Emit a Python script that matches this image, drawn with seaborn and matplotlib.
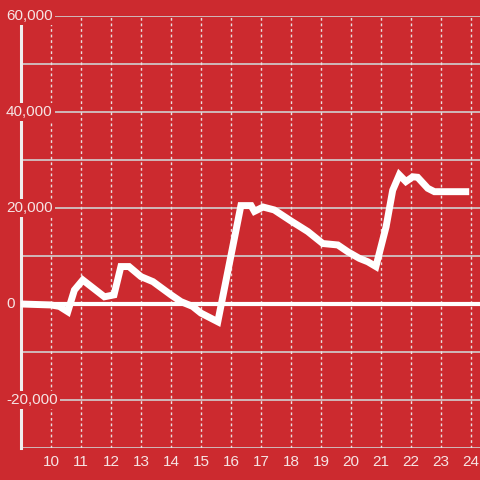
import seaborn as sns
import matplotlib.pyplot as plt
import pandas as pd

# values
hours = [9.0, 10.0, 10.28, 10.56, 10.78, 11.06, 11.78, 12.1, 12.33, 12.6,
         13.0, 13.4, 14.0, 14.33, 14.72, 15.0, 15.56, 16.33, 16.67, 16.78,
         17.07, 17.44, 18.0, 18.56, 19.06, 19.56, 19.89, 20.28, 20.56, 20.83,
         21.17, 21.39, 21.61, 21.83, 22.06, 22.22, 22.56, 22.78, 23.94]
balance = [0, -200, -500, -1600, 2900, 5000, 1500, 1900, 7800, 7800,
           5700, 4650, 1900, 500, -500, -1900, -3700, 20500, 20500, 19300,
           20200, 19600, 17300, 15100, 12600, 12300, 10900, 9500, 8800, 7800,
           16100, 23700, 26900, 25500, 26500, 26400, 24100, 23400, 23400]
x_ticks = list(range(10, 25))
y_grid = list(range(-30000, 60001, 10000))
y_labeled = [60000, 40000, 20000, 0, -20000]

bg = "#cc2a2f"
txt = "#f6e4e4"

sns.set_style("white", {"axes.facecolor": bg, "figure.facecolor": bg})
plt.rcParams["font.family"] = ["Liberation Sans", "DejaVu Sans"]

fig = plt.figure(figsize=(4.8, 4.8), dpi=100)
ax = fig.add_axes([21 / 480, 32 / 480, 459 / 480, 432 / 480])

df = pd.DataFrame({"hour": hours, "balance": balance})

ax.set_xlim(9, 24.3)
ax.set_ylim(-30000, 60000)

# grid
for y in y_grid:
    ax.axhline(y, color="#d0d0d0", lw=1.2, zorder=1)
for x in x_ticks:
    ax.axvline(x, color="#e8e0e0", lw=1, ls=(0, (2, 2)), zorder=1)
ax.axhline(0, color="white", lw=3, zorder=2)

sns.lineplot(data=df, x="hour", y="balance", ax=ax, color="white",
             lw=5, zorder=4, clip_on=False,
             solid_capstyle="butt", solid_joinstyle="miter")

for s in ["top", "right", "bottom"]:
    ax.spines[s].set_visible(False)
ax.spines["left"].set_color("#f0eeee")
ax.spines["left"].set_linewidth(2.2)
ax.spines["left"].set_bounds(-30000, 58500)

ax.set_xticks(x_ticks)
ax.set_xticklabels([str(t) for t in x_ticks])
ax.tick_params(axis="x", length=0, pad=5, labelsize=11, labelcolor=txt)
ax.set_yticks([])
ax.set_xlabel("")
ax.set_ylabel("")

ytr = ax.get_yaxis_transform()
for v in y_labeled:
    ax.text(-15 / 459, v, f"{v:,}", transform=ytr, ha="left", va="center",
            fontsize=11, color=txt, zorder=6, clip_on=False,
            bbox=dict(facecolor=bg, edgecolor="none", pad=1.5))

fig.savefig("out.png", dpi=100, facecolor=bg)
